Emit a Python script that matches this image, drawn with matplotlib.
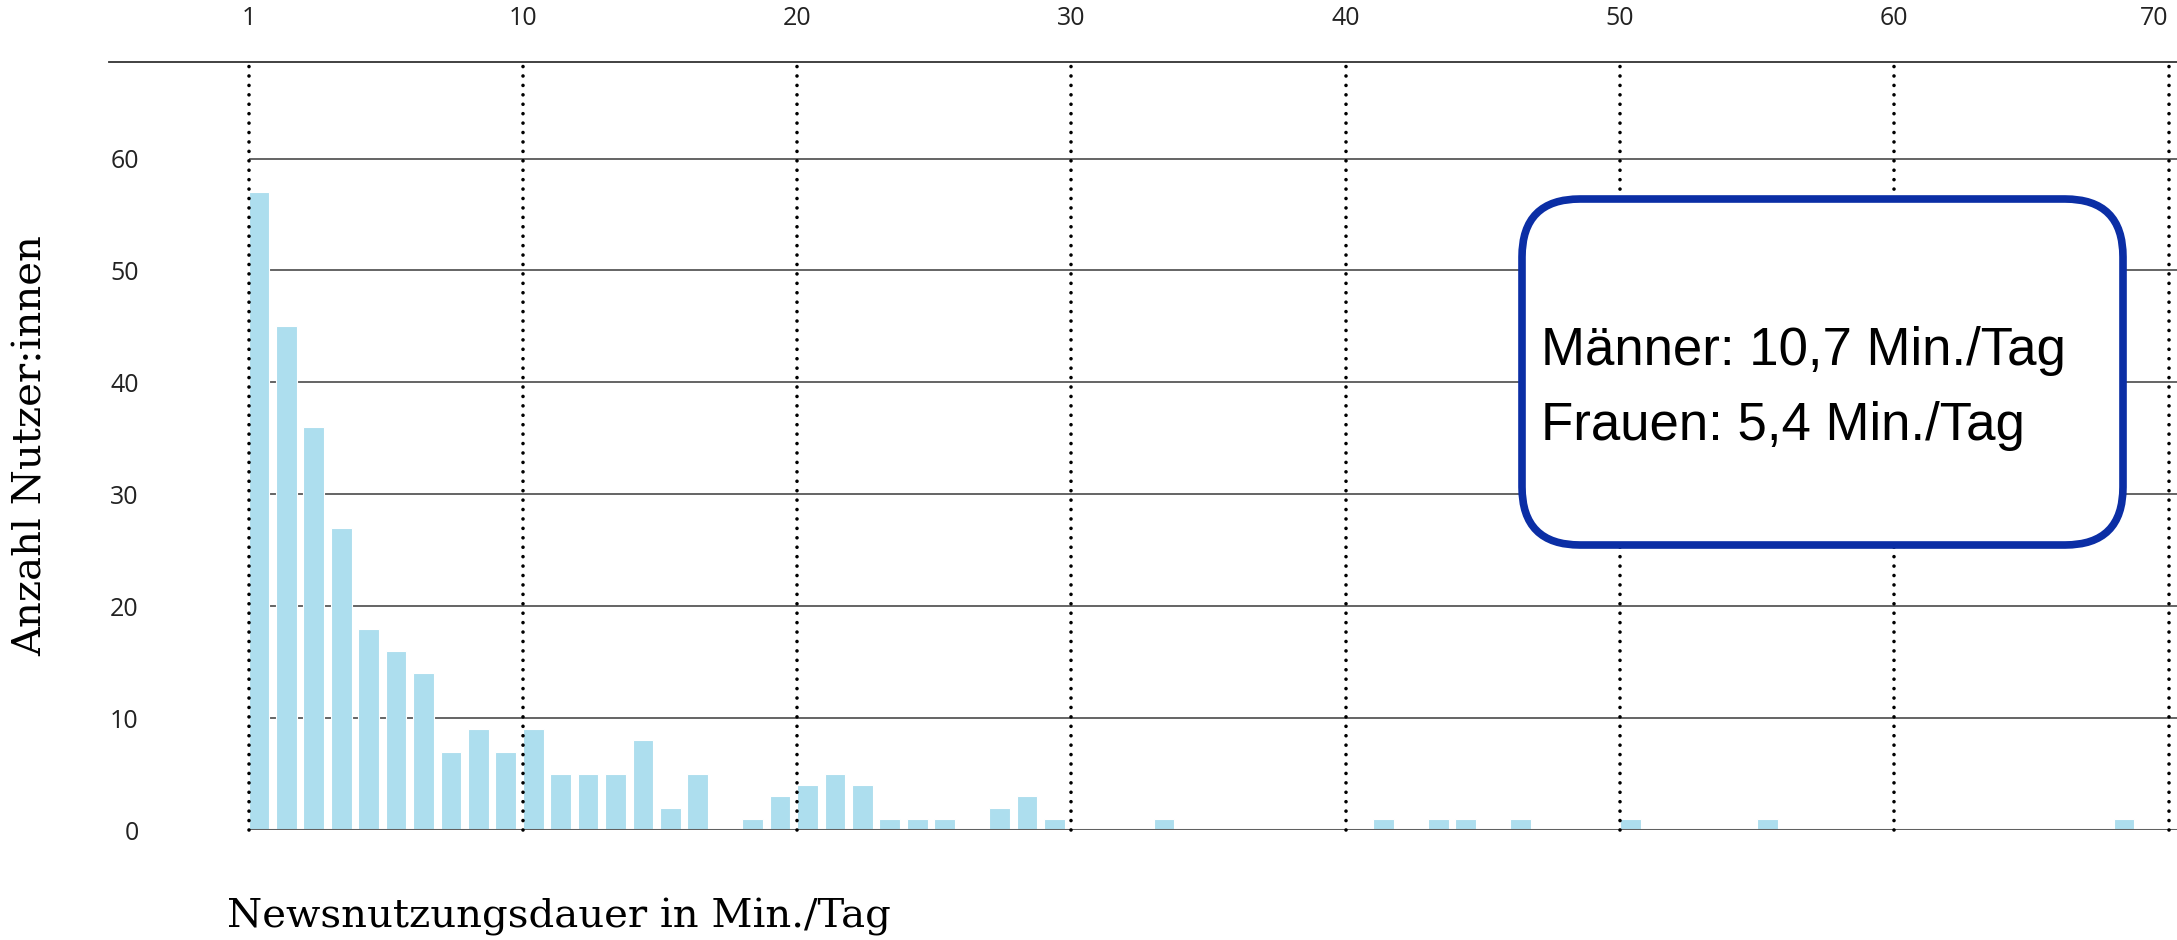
import matplotlib
matplotlib.use("Agg")
import matplotlib.pyplot as plt
from matplotlib.patches import FancyBboxPatch
from matplotlib.lines import Line2D
from matplotlib.transforms import IdentityTransform

# ---- data ----
bar_pos = [0, 1, 2, 3, 4, 5, 6, 7, 8, 9, 10, 11, 12, 13, 14, 15, 16,
           18, 19, 20, 21, 22, 23, 24, 25, 27, 28, 29, 33,
           41, 43, 44, 46, 50, 55, 68]
counts = [57, 45, 36, 27, 18, 16, 14, 7, 9, 7, 9, 5, 5, 5, 8, 2, 5,
          1, 3, 4, 5, 4, 1, 1, 1, 2, 3, 1, 1,
          1, 1, 1, 1, 1, 1, 1]
x_tick_pos = [0, 10, 20, 30, 40, 50, 60, 70]
x_tick_labels = ["1", "10", "20", "30", "40", "50", "60", "70"]
y_ticks = [0, 10, 20, 30, 40, 50, 60]
y_tick_labels = ["0", "10", "20", "30", "40", "50", "60"]
box_lines = ["Männer: 10,7 Min./Tag", "Frauen: 5,4 Min./Tag"]
x_label = "Newsnutzungsdauer in Min./Tag"
y_label = "Anzahl Nutzer:innen"

W, H = 2177, 940
fig = plt.figure(figsize=(W / 100, H / 100), dpi=100)
fig.patch.set_facecolor("white")

x0_px, x70_px = 248.5, 2168.5
unit_x = (x70_px - x0_px) / 70
y0_px, y60_px = 830.0, 158.5
unit_y = (y0_px - y60_px) / 60
top_px = 62.0
xmax = (W - x0_px) / unit_x
ymax = (y0_px - top_px) / unit_y

ax = fig.add_axes([x0_px / W, (H - y0_px) / H, (W - x0_px) / W, (y0_px - top_px) / H])
ax.set_xlim(0, xmax)
ax.set_ylim(0, ymax)
for s in ax.spines.values():
    s.set_visible(False)

ax.bar(bar_pos, counts, width=0.76, align="edge", color="#addeee",
       edgecolor="white", linewidth=0.8, zorder=2)

for v in y_ticks[1:]:
    ax.axhline(v, color="#3a3a3a", lw=1.1, zorder=1)
ax.axhline(0, color="#606060", lw=2.2, zorder=3)

vl = ax.vlines(x_tick_pos, 0, ymax, colors="black", linestyles=(0, (0.01, 2.6)),
               lw=2.6, zorder=4, clip_on=False)
vl.set_capstyle("round")

ax.xaxis.tick_top()
ax.set_xticks(x_tick_pos)
ax.set_xticklabels(x_tick_labels)
ax.set_yticks(y_ticks)
ax.set_yticklabels(y_tick_labels)
ax.tick_params(axis="x", length=0, pad=22, labelsize=18, labelcolor="#222222")
ax.tick_params(axis="y", length=0, pad=79, labelsize=18, labelcolor="#222222")
for lab in ax.get_xticklabels() + ax.get_yticklabels():
    lab.set_fontfamily(["Open Sans", "DejaVu Sans"])
ax.get_xticklabels()[-1].set_horizontalalignment("right")

# top rule
fig.add_artist(Line2D([109 / W, 1.0], [(H - top_px) / H] * 2, color="#333333", lw=1.3))

# annotation box
box = FancyBboxPatch((1522, H - 545), 2123 - 1522, 545 - 199,
                     boxstyle="round,pad=0,rounding_size=58",
                     transform=IdentityTransform(), facecolor="white",
                     edgecolor="#0b2ea5", lw=5.5, zorder=5)
fig.add_artist(box)
fig.text(1541 / W, (H - 365) / H, box_lines[0], fontsize=38,
         family=["Liberation Sans", "DejaVu Sans"], va="baseline", ha="left",
         color="black", zorder=6)
fig.text(1541 / W, (H - 440) / H, box_lines[1], fontsize=38,
         family=["Liberation Sans", "DejaVu Sans"], va="baseline", ha="left",
         color="black", zorder=6)

# axis labels
fig.text(227 / W, (H - 927) / H, x_label, fontsize=29,
         family=["DejaVu Serif"], va="baseline", ha="left", color="black")
fig.text(31.5 / W, (H - 446) / H, y_label, fontsize=29, rotation=90,
         family=["DejaVu Serif"], va="center", ha="center", color="black")

fig.savefig("out.png", dpi=100, facecolor="white")
